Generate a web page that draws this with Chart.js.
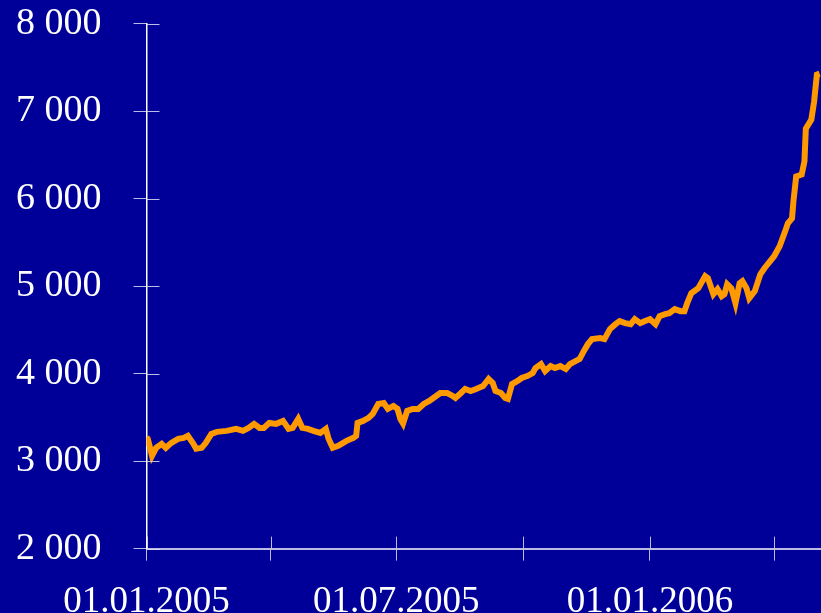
<!DOCTYPE html>
<html>
<head>
<meta charset="utf-8">
<script src="https://cdn.jsdelivr.net/npm/chart.js@4/dist/chart.umd.min.js"></script>
<style>
  html, body { margin: 0; padding: 0; background: #000099; overflow: hidden; }
  #wrap { width: 821px; height: 613px; overflow: hidden; }
  #indexChart { display: block; margin-top: -31px; }
</style>
</head>
<body>
<div id="wrap"><canvas id="indexChart" width="821" height="674"></canvas></div>
<script>
// days since 01.01.2005 and index level
const days = [0, 1, 4, 7, 11, 14, 18, 23, 27, 30, 34, 36, 40, 43, 47, 51, 58, 65, 70, 74,
  78, 82, 85, 89, 94, 99, 103, 106, 110, 113, 117, 121, 126, 130, 132, 135, 139, 145, 150, 152,
  153, 157, 161, 164, 168, 172, 175, 179, 182, 184, 186, 189, 193, 197, 201, 205, 208, 213, 218, 222,
  224, 228, 231, 235, 239, 244, 248, 251, 253, 257, 260, 262, 265, 269, 272, 276, 280, 282, 286, 289,
  293, 296, 300, 304, 307, 311, 314, 317, 320, 323, 329, 332, 336, 340, 343, 347, 351, 354, 358, 361,
  365, 369, 372, 376, 379, 383, 387, 390, 392, 395, 400, 405, 407, 411, 414, 417, 419, 421, 424, 427,
  430, 432, 435, 437, 441, 445, 448, 452, 455, 459, 463, 465, 468, 469, 471, 475, 477, 478, 482, 484,
  486, 488];
const closes = [3277, 3250, 3061, 3152, 3198, 3152, 3209, 3255, 3266, 3289, 3198, 3141, 3152, 3209, 3312, 3335, 3346, 3369, 3346, 3380,
  3426, 3380, 3380, 3437, 3426, 3460, 3369, 3380, 3483, 3380, 3369, 3346, 3323, 3369, 3255, 3152, 3175, 3232, 3266, 3289,
  3437, 3460, 3494, 3540, 3654, 3665, 3597, 3631, 3597, 3483, 3430, 3574, 3597, 3597, 3654, 3688, 3722, 3779, 3779, 3745,
  3722, 3779, 3825, 3802, 3825, 3859, 3939, 3893, 3802, 3779, 3722, 3711, 3882, 3916, 3950, 3973, 4007, 4064, 4110, 4030,
  4087, 4064, 4087, 4053, 4110, 4144, 4167, 4258, 4338, 4395, 4407, 4395, 4509, 4566, 4600, 4578, 4566, 4623, 4578, 4600,
  4623, 4566, 4658, 4680, 4692, 4738, 4715, 4715, 4806, 4920, 4977, 5114, 5091, 4909, 4966, 4886, 4909, 5023, 4977, 4806,
  5034, 5057, 4977, 4863, 4943, 5137, 5206, 5285, 5342, 5456, 5627, 5719, 5776, 5969, 6255, 6277, 6426, 6802, 6905, 7110,
  7418, 7430];

// quarter starts (days since 01.01.2005) and their labels
const quarterTicks = [0, 90, 181, 273, 365, 455];
const quarterLabels = ['01.01.2005', '', '01.07.2005', '', '01.01.2006', ''];

const axisColor = 'rgba(220, 220, 240, 0.85)';
const fontFamily = '"Liberation Serif", "Times New Roman", serif';

// ticks in the original cross the axis line, Chart.js only draws the outer half
const crossTicks = {
  id: 'crossTicks',
  afterDraw(chart) {
    const { ctx, chartArea, scales } = chart;
    ctx.save();
    ctx.strokeStyle = axisColor;
    ctx.lineWidth = 1;
    scales.y.ticks.forEach((t) => {
      const py = Math.round(scales.y.getPixelForValue(t.value)) + 0.5;
      ctx.beginPath();
      ctx.moveTo(chartArea.left, py);
      ctx.lineTo(chartArea.left + 13, py);
      ctx.stroke();
    });
    scales.x.ticks.forEach((t) => {
      const px = Math.round(scales.x.getPixelForValue(t.value)) + 0.5;
      ctx.beginPath();
      ctx.moveTo(px, chartArea.bottom);
      ctx.lineTo(px, chartArea.bottom - 12);
      ctx.stroke();
    });
    ctx.restore();
  },
};

const points = days.map((d, i) => ({ x: d, y: closes[i] }));

new Chart(document.getElementById('indexChart'), {
  type: 'line',
  data: {
    datasets: [
      {
        data: points,
        borderColor: '#ff9900',
        borderWidth: 6,
        pointRadius: 0,
        tension: 0,
        fill: false,
      },
    ],
  },
  options: {
    responsive: false,
    animation: false,
    devicePixelRatio: 1,
    layout: { padding: { left: 16, top: 1, right: 0, bottom: 0 } },
    plugins: { legend: { display: false }, tooltip: { enabled: false } },
    scales: {
      x: {
        type: 'linear',
        min: 0,
        max: 489,
        afterBuildTicks: (scale) => {
          scale.ticks = quarterTicks.map((v) => ({ value: v }));
        },
        // the date labels may hang over the left edge, as in the original
        afterFit: (scale) => {
          scale.paddingLeft = 0;
          scale.paddingRight = 0;
        },
        ticks: {
          color: '#ffffff',
          font: { family: fontFamily, size: 37 },
          padding: 19,
          maxRotation: 0,
          autoSkip: false,
          callback: (value) => quarterLabels[quarterTicks.indexOf(value)] || '',
        },
        grid: { drawOnChartArea: false, drawTicks: true, tickLength: 12, color: axisColor },
        border: { color: axisColor, width: 2 },
      },
      y: {
        min: 2000,
        max: 8000,
        // Chart.js reserves the tick padding twice, keep it only between label and tick
        afterFit: (scale) => {
          scale.width -= scale.options.ticks.padding;
        },
        ticks: {
          stepSize: 1000,
          color: '#ffffff',
          font: { family: fontFamily, size: 38 },
          padding: 32,
          callback: (v) => String(v).replace(/\B(?=(\d{3})+(?!\d))/g, ' '),
        },
        grid: { drawOnChartArea: false, drawTicks: true, tickLength: 13, color: axisColor },
        border: { color: '#ffffff', width: 1.5 },
      },
    },
  },
  plugins: [crossTicks],
});
</script>
</body>
</html>
